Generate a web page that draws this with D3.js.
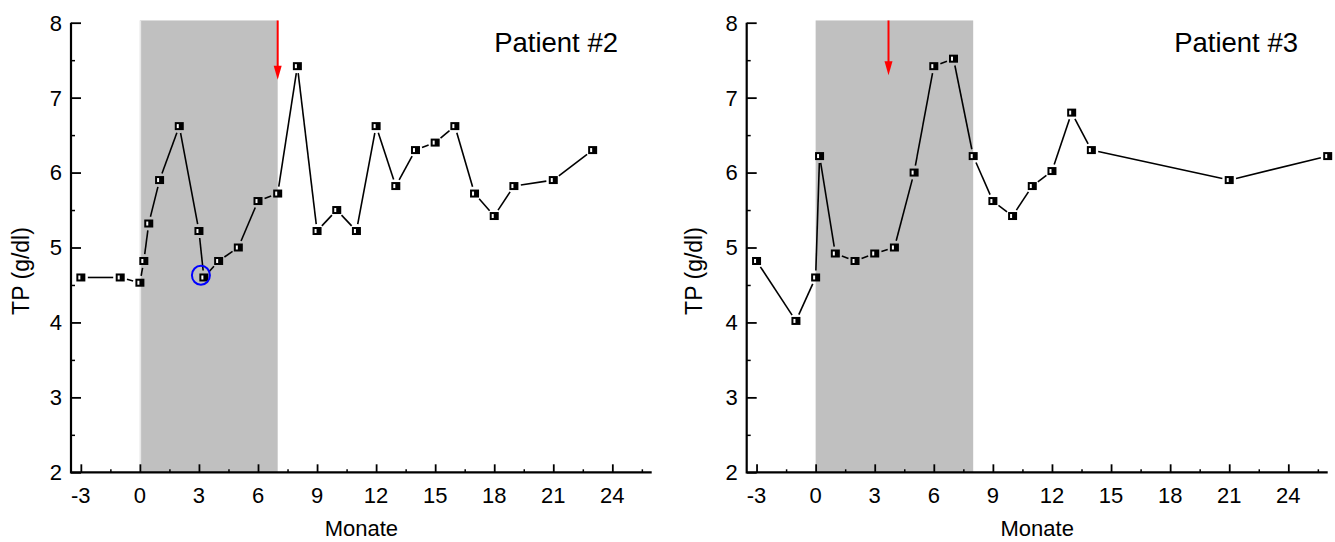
<!DOCTYPE html>
<html>
<head>
<meta charset="utf-8">
<script src="https://cdn.jsdelivr.net/npm/d3@7"></script>
<style>
  html, body { margin: 0; padding: 0; background: #fff; }
  svg { display: block; font-family: "Liberation Sans", Arial, sans-serif; }
</style>
</head>
<body>
<svg id="chart" width="1335" height="542"></svg>
<script>
// ---------- data ----------
const xTicks = [-3, 0, 3, 6, 9, 12, 15, 18, 21, 24];
const yTicks = [2, 3, 4, 5, 6, 7, 8];
const xDomain = [-3.5, 26];
const yDomain = [2, 8];

const p2Months = [-3, -1, 0, 0.2, 0.45, 1, 2, 3, 3.25, 4, 5, 6, 7, 8, 9, 10, 11, 12, 13, 14, 15, 16, 17, 18, 19, 21, 23];
const p2TP     = [4.6, 4.6, 4.53, 4.82, 5.32, 5.9, 6.62, 5.22, 4.6, 4.82, 5.0, 5.62, 5.72, 7.42, 5.22, 5.5, 5.22, 6.62, 5.82, 6.3, 6.4, 6.62, 5.72, 5.42, 5.82, 5.9, 6.3];
const p2Band   = [0, 7];        // shaded therapy period (months)
const p2Arrow  = [7, 8.03, 7.24];  // month, top value, tip value
const p2Circle = [3.1, 4.63];   // highlighted point

const p3Months = [-3, -1, 0, 0.2, 1, 2, 3, 4, 5, 6, 7, 8, 9, 10, 11, 12, 13, 14, 21, 26];
const p3TP     = [4.82, 4.02, 4.6, 6.22, 4.92, 4.82, 4.92, 5.0, 6.0, 7.42, 7.52, 6.22, 5.62, 5.42, 5.82, 6.02, 6.8, 6.3, 5.9, 6.22];
const p3Band   = [0, 8];
const p3Arrow  = [3.7, 8.03, 7.3];

const titles = ["Patient #2", "Patient #3"];
const yLabel = "TP (g/dl)";
const xLabel = "Monate";

// ---------- drawing ----------
const svg = d3.select("#chart");
const plotTop = 22.7, plotBottom = 472.3;

const panels = [
  { left: 71, right: 651.7, months: p2Months, tp: p2TP, band: p2Band, arrow: p2Arrow, circle: p2Circle, title: titles[0], bandEdge: true, titleX: 618, labelX: 21.5 },
  { left: 746.7, right: 1327.7, months: p3Months, tp: p3TP, band: p3Band, arrow: p3Arrow, circle: null, title: titles[1], bandEdge: false, titleX: 1298, labelX: 694 }
];

panels.forEach(p => {
  const x = d3.scaleLinear().domain(xDomain).range([p.left, p.right]);
  const y = d3.scaleLinear().domain(yDomain).range([plotBottom, plotTop]);
  const g = svg.append("g");

  // shaded band
  g.append("rect")
    .attr("x", x(p.band[0]))
    .attr("y", y(8.03))
    .attr("width", x(p.band[1]) - x(p.band[0]))
    .attr("height", y(2) - y(8.03))
    .attr("fill", "#c0c0c0");
  if (p.bandEdge) {
    g.append("line")
      .attr("x1", x(p.band[0]) + 0.5).attr("x2", x(p.band[0]) + 0.5)
      .attr("y1", y(8.03)).attr("y2", y(2))
      .attr("stroke", "#e8e8e8").attr("stroke-width", 1.5);
  }

  // connecting line segments with gaps at markers
  const pts = p.months.map((m, i) => [x(m), y(p.tp[i])]);
  const gap = 7;
  for (let i = 0; i < pts.length - 1; i++) {
    const [x1, y1] = pts[i], [x2, y2] = pts[i + 1];
    const dx = x2 - x1, dy = y2 - y1, len = Math.hypot(dx, dy);
    if (len <= 2 * gap) continue;
    const ux = dx / len, uy = dy / len;
    g.append("line")
      .attr("x1", x1 + ux * gap).attr("y1", y1 + uy * gap)
      .attr("x2", x2 - ux * gap).attr("y2", y2 - uy * gap)
      .attr("stroke", "#000").attr("stroke-width", 1.6);
  }

  // markers
  const mk = g.selectAll("g.mk").data(pts).enter().append("g")
    .attr("transform", d => `translate(${d[0]},${d[1]})`);
  mk.append("rect").attr("x", -4.5).attr("y", -4).attr("width", 9).attr("height", 8).attr("fill", "#000");
  mk.append("rect").attr("x", -2.5).attr("y", -2).attr("width", 2).attr("height", 4).attr("fill", "#fff");

  // highlight circle
  if (p.circle) {
    g.append("ellipse")
      .attr("cx", x(p.circle[0])).attr("cy", y(p.circle[1]))
      .attr("rx", 9).attr("ry", 9.5)
      .attr("fill", "none").attr("stroke", "#0000ff").attr("stroke-width", 2);
  }

  // red arrow
  const ax = x(p.arrow[0]), ay0 = y(p.arrow[1]), ayTip = y(p.arrow[2]);
  g.append("line").attr("x1", ax).attr("x2", ax).attr("y1", ay0).attr("y2", ayTip - 10)
    .attr("stroke", "#ff0000").attr("stroke-width", 2);
  g.append("path")
    .attr("d", `M${ax - 4},${ayTip - 14} L${ax + 4},${ayTip - 14} L${ax},${ayTip} Z`)
    .attr("fill", "#ff0000");

  // y axis
  const yAxis = g.append("g").attr("transform", `translate(${p.left},0)`)
    .call(d3.axisRight(y).tickValues(yTicks).tickSize(10).tickFormat(""));
  yAxis.select(".domain").remove();
  yAxis.selectAll("line").attr("stroke", "#000").attr("stroke-width", 1.8);
  const yMinor = g.append("g").attr("transform", `translate(${p.left},0)`)
    .call(d3.axisRight(y).tickValues(d3.range(2.5, 8, 1)).tickSize(4).tickFormat(""));
  yMinor.select(".domain").remove();
  yMinor.selectAll("line").attr("stroke", "#000").attr("stroke-width", 1.5);
  g.selectAll(null).data(yTicks).enter().append("text")
    .attr("x", p.left - 9).attr("y", d => y(d)).attr("dy", "0.36em")
    .attr("text-anchor", "end").attr("font-size", 22).attr("fill", "#000")
    .text(d => d);

  // x axis
  const xAxis = g.append("g").attr("transform", `translate(0,${plotBottom})`)
    .call(d3.axisTop(x).tickValues(xTicks).tickSize(8).tickFormat(""));
  xAxis.select(".domain").remove();
  xAxis.selectAll("line").attr("stroke", "#000").attr("stroke-width", 1.8);
  const xMinor = g.append("g").attr("transform", `translate(0,${plotBottom})`)
    .call(d3.axisTop(x).tickValues(d3.range(-1.5, 26, 3)).tickSize(3).tickFormat(""));
  xMinor.select(".domain").remove();
  xMinor.selectAll("line").attr("stroke", "#000").attr("stroke-width", 1.5);
  g.selectAll(null).data(xTicks).enter().append("text")
    .attr("x", d => x(d)).attr("y", plotBottom + 31)
    .attr("text-anchor", "middle").attr("font-size", 22).attr("fill", "#000")
    .text(d => d);

  // axis lines
  g.append("path")
    .attr("d", `M${p.left},${plotTop} V${plotBottom} H${p.right}`)
    .attr("fill", "none").attr("stroke", "#000").attr("stroke-width", 2.2);

  // labels
  g.append("text").attr("x", p.titleX).attr("y", 51.5)
    .attr("text-anchor", "end").attr("font-size", 27.5).attr("fill", "#000").text(p.title);
  g.append("text").attr("transform", `translate(${p.labelX + 7.5},271) rotate(-90)`)
    .attr("text-anchor", "middle").attr("font-size", 23).attr("fill", "#000").text(yLabel);
  g.append("text").attr("x", (p.left + p.right) / 2).attr("y", 536)
    .attr("text-anchor", "middle").attr("font-size", 22).attr("fill", "#000").text(xLabel);
});
</script>
</body>
</html>
